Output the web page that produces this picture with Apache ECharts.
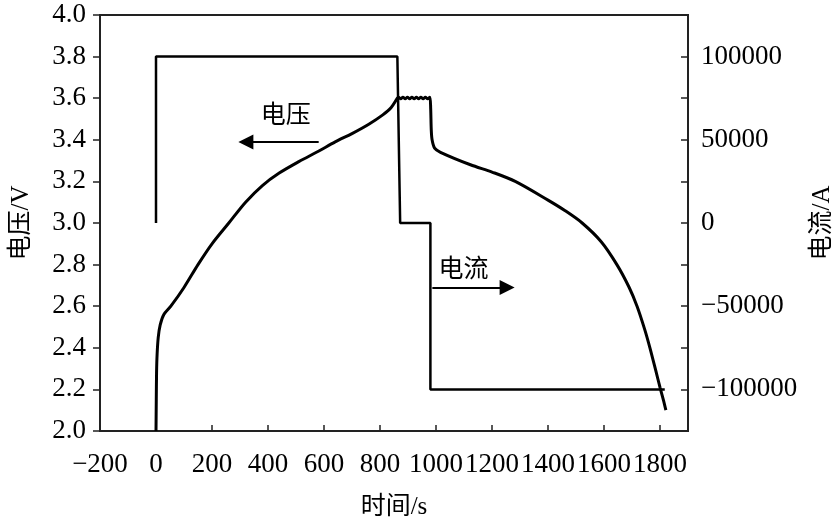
<!DOCTYPE html>
<html>
<head>
<meta charset="utf-8">
<script src="https://cdn.jsdelivr.net/npm/echarts@6/dist/echarts.min.js"></script>
<style>
html,body{margin:0;padding:0;background:#fff;}
#c{width:840px;height:527px;}
</style>
</head>
<body>
<div id="c"></div>
<script>
// Voltage (V) vs time (s)
const voltageData = [
  [0,2.0],[1,2.15],[2,2.28],[4,2.37],[8,2.45],[15,2.51],[28,2.56],[53,2.60],[100,2.69],
  [150,2.80],[200,2.90],[260,3.00],[320,3.10],[380,3.18],[440,3.24],[510,3.295],[580,3.345],
  [640,3.39],[700,3.43],[760,3.475],[810,3.52],[840,3.555],[862,3.60],
  [866,3.605],[874,3.597],[882,3.605],[890,3.597],[898,3.605],[906,3.597],[914,3.605],[922,3.597],
  [930,3.605],[938,3.597],[946,3.605],[954,3.597],[962,3.605],[970,3.597],[978,3.605],
  [981,3.55],[983,3.45],[986,3.40],[995,3.36],[1016,3.34],[1123,3.28],[1200,3.245],[1283,3.20],
  [1400,3.11],[1460,3.06],[1522,3.00],[1590,2.91],[1646,2.80],[1690,2.69],[1718,2.60],
  [1745,2.49],[1764,2.40],[1785,2.29],[1800,2.21],[1812,2.15],[1821,2.10]
];
// Current (A) vs time (s)
const currentData = [
  [0,0],[0,100000],[862,100000],[872,0],[980,0],[980,-100000],[1817,-100000]
];
const xTicks = {min:-200, max:1900, interval:200};
const vTicks = {min:2.0, max:4.0, interval:0.2};
const iTicks = {min:-125000, max:125000, interval:25000};
const labels = {voltage:'电压', current:'电流', xName:'时间/s', vName:'电压/V', iName:'电流/A'};

const serif = '"Liberation Serif","Times New Roman",serif';
const cjk = '"Liberation Serif","Noto Sans CJK SC",serif';
const axisColor = '#222';
const fmtNeg = v => (v < 0 ? '\u2212' + Math.abs(v) : String(v));

const chart = echarts.init(document.getElementById('c'), null, {renderer:'canvas'});
chart.setOption({
  animation:false,
  backgroundColor:'#fff',
  grid:{left:100, right:152, top:15, bottom:96, show:true, borderColor:axisColor, borderWidth:2,
    containLabel:false, outerBoundsMode:'none'},
  xAxis:{
    type:'value', min:xTicks.min, max:xTicks.max, interval:xTicks.interval,
    name:labels.xName, nameLocation:'middle', nameGap:64,
    nameTextStyle:{fontFamily:cjk, fontSize:25, color:'#000'},
    axisLine:{show:true, onZero:false, lineStyle:{color:axisColor, width:2}},
    axisTick:{show:true, inside:true, length:6, lineStyle:{color:axisColor, width:1.5}},
    axisLabel:{fontFamily:serif, fontSize:27, color:'#000', margin:20, showMaxLabel:false,
      formatter:v => (v > 1800 ? '' : fmtNeg(v))},
    splitLine:{show:false}
  },
  yAxis:[{
    type:'value', position:'left', min:vTicks.min, max:vTicks.max, interval:vTicks.interval,
    name:labels.vName, nameLocation:'middle', nameGap:66, nameRotate:90,
    nameTextStyle:{fontFamily:cjk, fontSize:25, color:'#000'},
    axisLine:{show:true, onZero:false, lineStyle:{color:axisColor, width:2}},
    axisTick:{show:true, inside:false, length:7, lineStyle:{color:axisColor, width:1.5}},
    axisLabel:{fontFamily:serif, fontSize:27, color:'#000', margin:14, formatter:v => v.toFixed(1)},
    splitLine:{show:false}
  },{
    type:'value', position:'right', min:iTicks.min, max:iTicks.max, interval:iTicks.interval,
    name:labels.iName, nameLocation:'middle', nameGap:122, nameRotate:90,
    nameTextStyle:{fontFamily:cjk, fontSize:25, color:'#000'},
    axisLine:{show:true, onZero:false, lineStyle:{color:axisColor, width:2}},
    axisTick:{show:true, inside:true, length:7, lineStyle:{color:axisColor, width:1.5}},
    axisLabel:{fontFamily:serif, fontSize:27, color:'#000', margin:13,
      formatter:v => (Math.abs(v) % 50000 === 0 && Math.abs(v) <= 100000 ? fmtNeg(v) : '')},
    splitLine:{show:false}
  }],
  series:[{
    type:'line', name:labels.voltage, yAxisIndex:0, data:voltageData,
    showSymbol:false, smooth:0.3, silent:true,
    lineStyle:{color:'#000', width:3},
    markPoint:{silent:true, symbol:'circle', symbolSize:0,
      label:{show:true, position:'inside', fontFamily:cjk, fontSize:25, color:'#000'},
      data:[
        {coord:[463,3.51], value:labels.voltage, label:{formatter:labels.voltage}},
        {coord:[1098,2.77], value:labels.current, label:{formatter:labels.current}}
      ]},
    markLine:{silent:true, symbol:['none','triangle'], symbolSize:15,
      label:{show:false},
      lineStyle:{color:'#000', width:2, type:'solid'},
      data:[
        [{coord:[581,3.39]},{coord:[321,3.39]}],
        [{coord:[987,2.69]},{coord:[1254,2.69]}]
      ]}
  },{
    type:'line', name:labels.current, yAxisIndex:1, data:currentData,
    showSymbol:false, silent:true,
    lineStyle:{color:'#000', width:2.5}
  }]
});
</script>
</body>
</html>
